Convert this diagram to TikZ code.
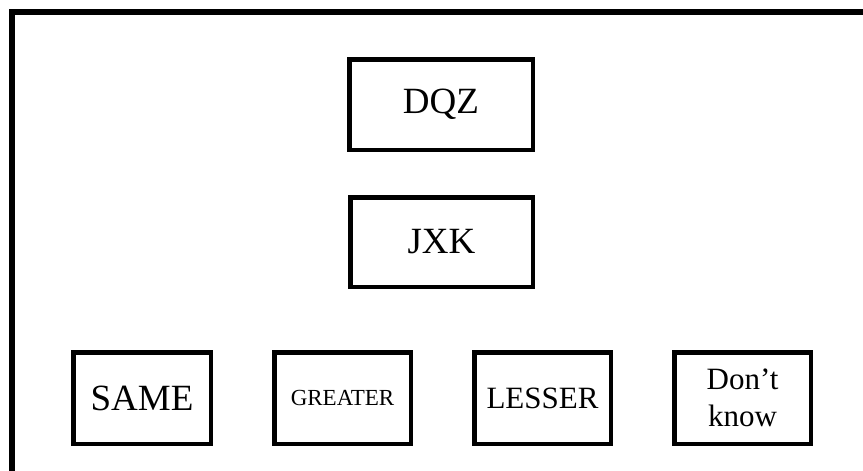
\documentclass[tikz,border=0pt]{standalone}
\usepackage{fontspec}
\setmainfont{Liberation Serif}
\begin{document}
\begin{tikzpicture}[x=1pt,y=-1pt,
  box/.style={draw=black,line width=4.5pt,inner sep=0pt,align=center,
    minimum width=136.5pt,minimum height=91.5pt},
  bigtext/.style={font=\fontsize{37}{44}\selectfont},
  midtext/.style={font=\fontsize{31}{36.5}\selectfont},
  smalltext/.style={font=\fontsize{23}{28}\selectfont},
  frame/.style={line width=5.5pt,line cap=rect}]
  \useasboundingbox (0,0) rectangle (863,471);
  \clip (0,0) rectangle (863,471);
  \fill[white] (0,0) rectangle (863,471);
  % outer frame, running off the right and bottom edges
  \coordinate (fbl) at (12,490);
  \coordinate (ftl) at (12,12);
  \coordinate (ftr) at (880,12);
  \draw[frame] (fbl) -- (ftl) -- (ftr);
  % top boxes
  \node[box,bigtext,minimum width=183.5pt,minimum height=90.5pt] (dqz) at (441,104.5) {DQZ};
  \node[box,bigtext,minimum width=182.5pt,minimum height=89.5pt] (jxk) at (441.5,242) {JXK};
  % answer boxes
  \node[box,bigtext,minimum width=137.5pt] (same) at (142,398) {SAME};
  \node[box,smalltext] (greater) at (342.5,398) {GREATER};
  \node[box,midtext] (lesser) at (542.5,398) {LESSER};
  \node[box,midtext] (dontknow) at (742.5,398) {Don’t\\know};
\end{tikzpicture}
\end{document}
